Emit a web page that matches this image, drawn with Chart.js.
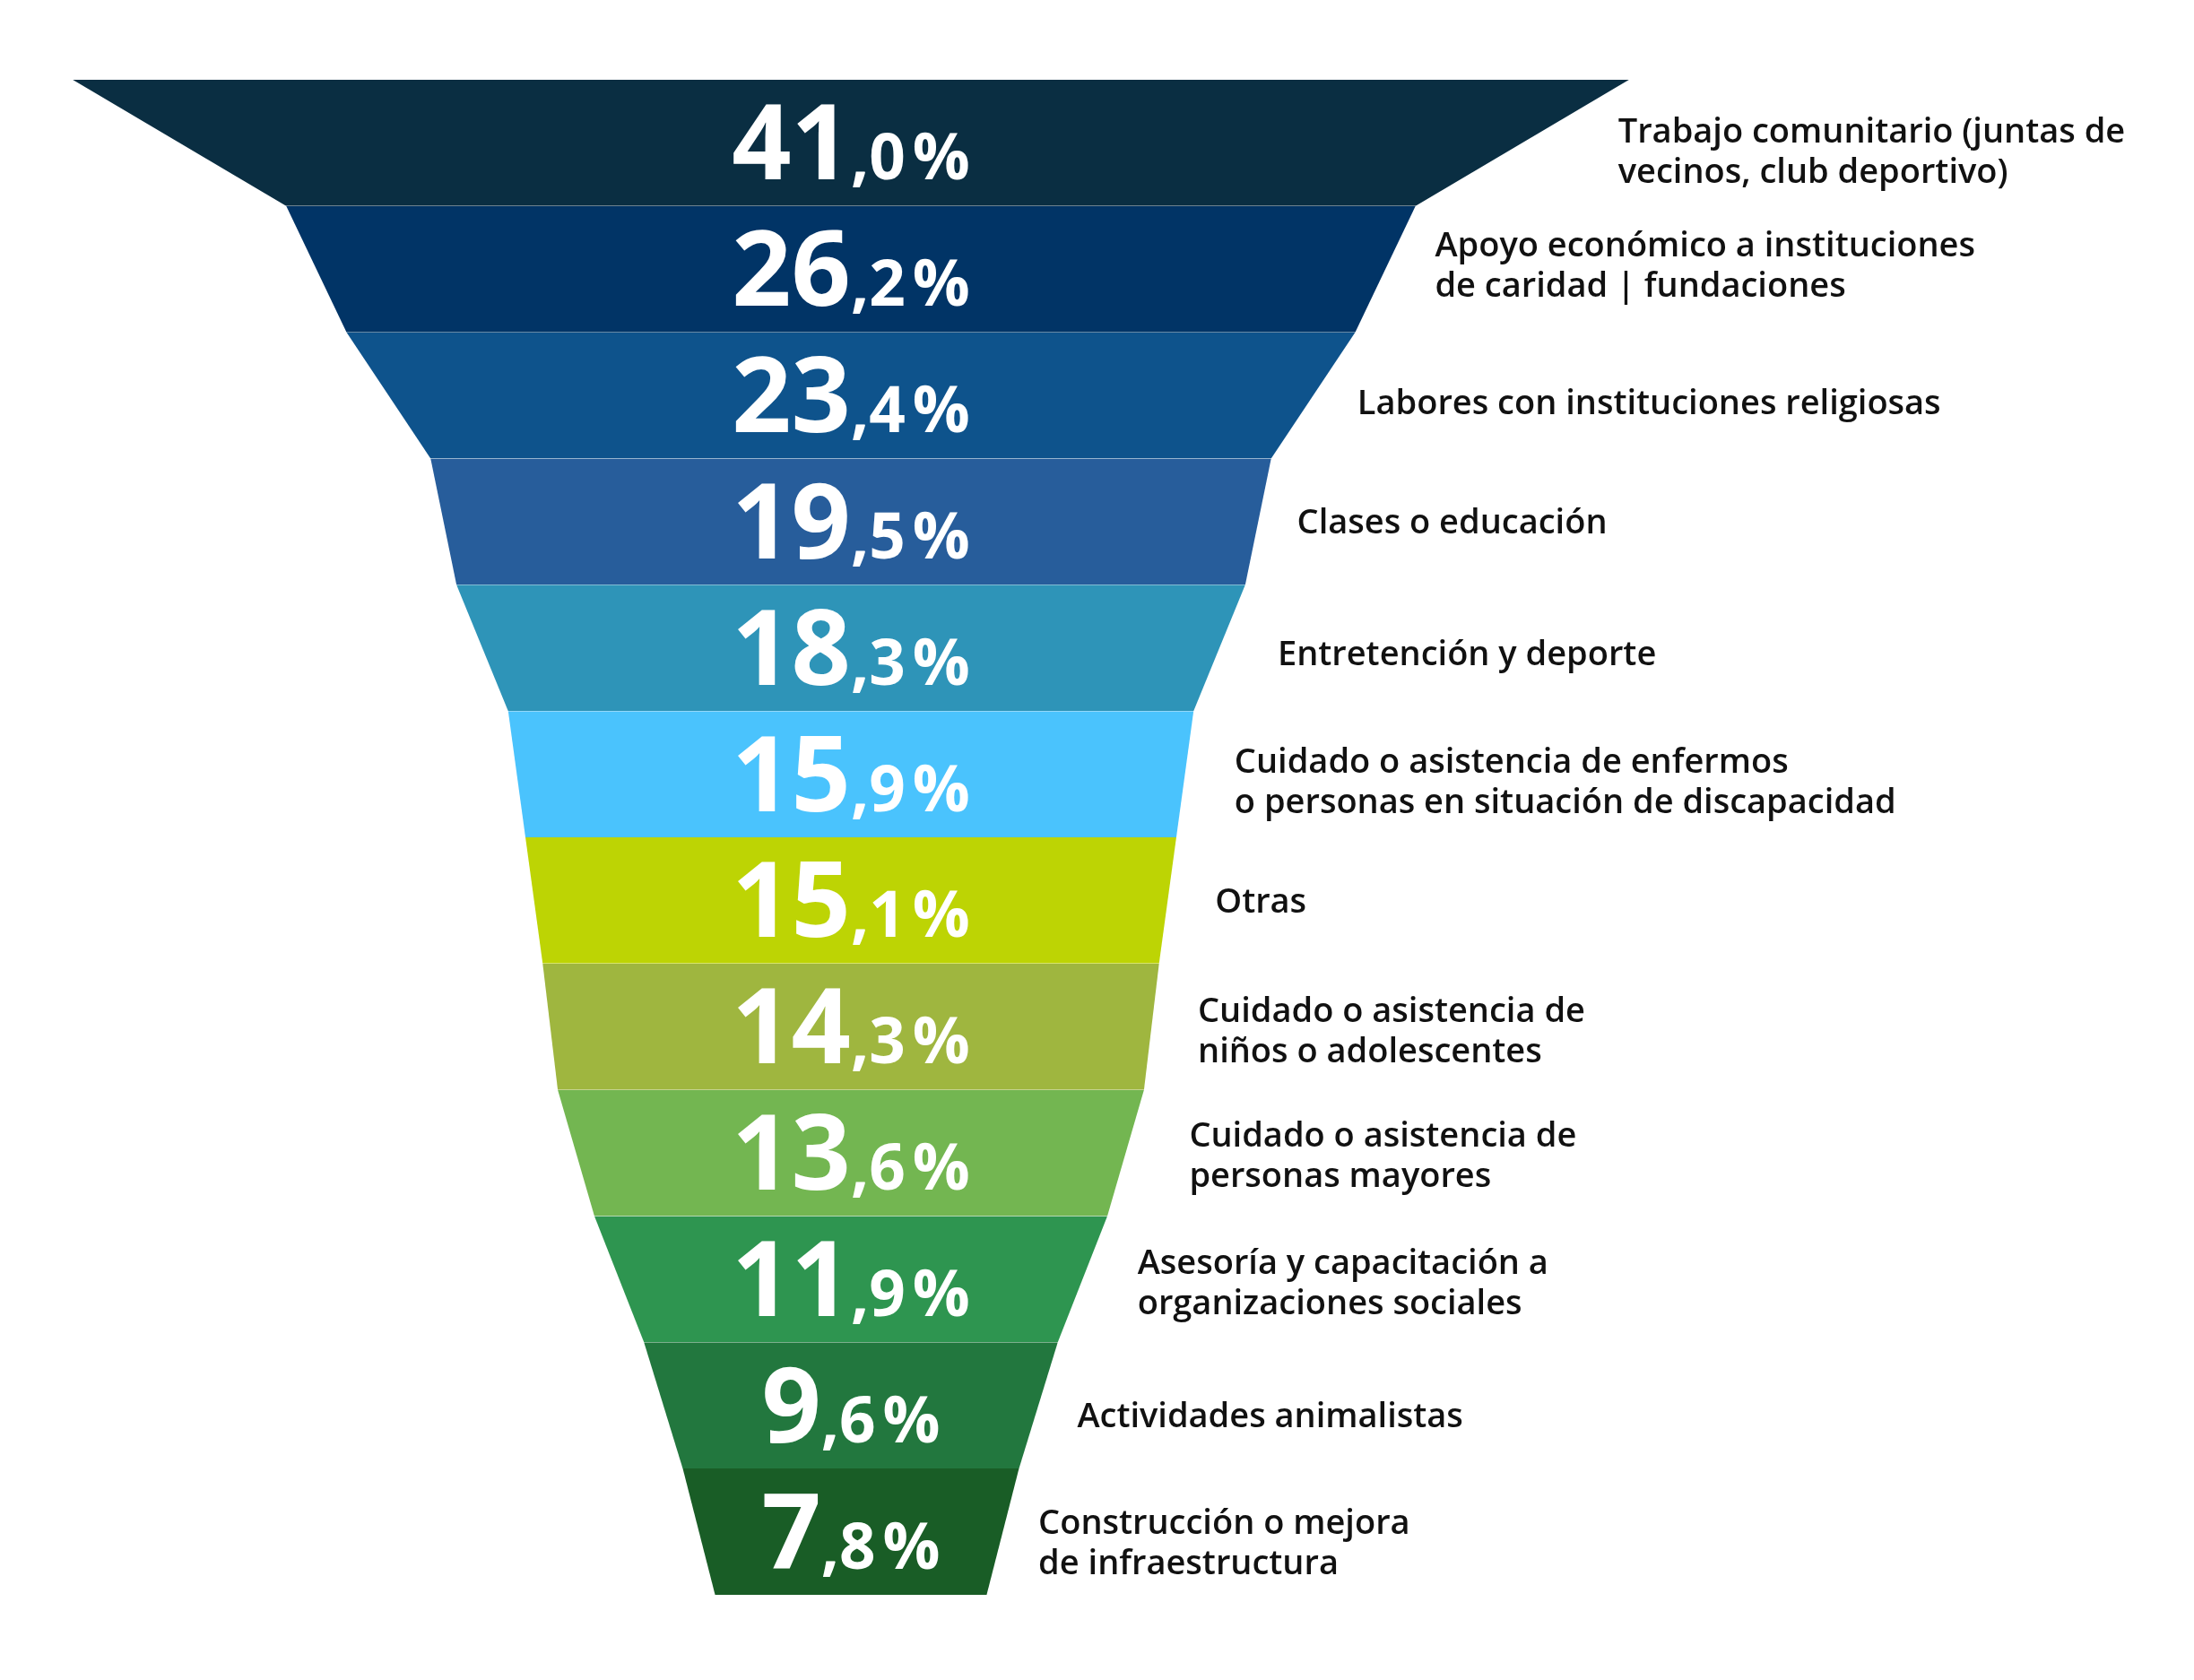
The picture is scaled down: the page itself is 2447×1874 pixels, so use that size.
<!DOCTYPE html>
<html>
<head>
<meta charset="utf-8">
<script src="https://cdn.jsdelivr.net/npm/chart.js@4"></script>
<style>
  html, body { margin: 0; padding: 0; background: #fff; }
  canvas { display: block; }
</style>
</head>
<body>
<canvas id="funnelChart" width="2447" height="1874"></canvas>
<script>
// categories, top to bottom
const categories = [
    ['Trabajo comunitario (juntas de', 'vecinos, club deportivo)'],
    ['Apoyo económico a instituciones', 'de caridad | fundaciones'],
    ['Labores con instituciones religiosas'],
    ['Clases o educación'],
    ['Entretención y deporte'],
    ['Cuidado o asistencia de enfermos', 'o personas en situación de discapacidad'],
    ['Otras'],
    ['Cuidado o asistencia de', 'niños o adolescentes'],
    ['Cuidado o asistencia de', 'personas mayores'],
    ['Asesoría y capacitación a', 'organizaciones sociales'],
    ['Actividades animalistas'],
    ['Construcción o mejora', 'de infraestructura']
];
const values = [41.0, 26.2, 23.4, 19.5, 18.3, 15.9, 15.1, 14.3, 13.6, 11.9, 9.6, 7.8];
// funnel mouth and tip widths (in the same % units as values)
const topCap = 36.1;
const bottomCap = 6.3;

const colors = ['#0a2e42', '#013466', '#0e538c', '#275d9b', '#2e94b8', '#4ac3fd',
                '#bdd404', '#9fb63f', '#73b651', '#2e9550', '#22773e', '#195d26'];
// where each category label starts (x-axis units) and a small vertical nudge (px)
const labelX = [17.8, 13.55, 11.75, 10.35, 9.9, 8.9, 8.45, 8.05, 7.85, 6.65, 5.25, 4.35];
const labelDy = [3, -11, 2, -6, 0, 2, -5, -2, -3, -2, 5, 6];

// edge widths: top of segment i uses its own value
const edges = values.map((v, i) => i === 0 ? topCap : v);
edges.push(bottomCap);

const datasets = [];
values.forEach((v, i) => {
    datasets.push({
        data: [{x: -edges[i] / 2, y: i}, {x: -edges[i + 1] / 2, y: i + 1}],
        borderWidth: 0,
        pointRadius: 0,
        fill: false
    });
    datasets.push({
        data: [{x: edges[i] / 2, y: i}, {x: edges[i + 1] / 2, y: i + 1}],
        borderWidth: 0,
        pointRadius: 0,
        backgroundColor: colors[i],
        fill: '-1'
    });
});

const labelPlugin = {
    id: 'funnelLabels',
    afterDatasetsDraw(chart) {
        const ctx = chart.ctx;
        const xs = chart.scales.x;
        const ys = chart.scales.y;
        ctx.save();
        values.forEach((v, i) => {
            const yc = ys.getPixelForValue(i + 0.5);
            const xc = xs.getPixelForValue(0);

            // percentage: big integer part, small decimals
            const parts = v.toFixed(1).split('.');
            const bigFont = 'bold 116px "Open Sans"';
            const smallFont = 'bold 71px "Open Sans"';
            ctx.font = bigFont;
            const wBig = ctx.measureText(parts[0]).width;
            ctx.font = smallFont;
            const wDec = ctx.measureText(',' + parts[1]).width;
            const wPct = ctx.measureText('%').width;
            const gap = 8;
            const total = wBig + wDec + gap + wPct;
            let x = xc - total / 2;
            const base = yc + 41;
            ctx.fillStyle = '#ffffff';
            ctx.textAlign = 'left';
            ctx.textBaseline = 'alphabetic';
            ctx.font = bigFont;
            ctx.fillText(parts[0], x, base);
            x += wBig;
            ctx.font = smallFont;
            ctx.fillText(',' + parts[1], x, base);
            x += wDec + gap;
            ctx.fillText('%', x, base);

            // category label
            const lines = categories[i];
            const lh = 45;
            ctx.font = '600 38px "Open Sans"';
            ctx.fillStyle = '#111111';
            ctx.textBaseline = 'middle';
            const lx = xs.getPixelForValue(labelX[i]);
            lines.forEach((t, k) => {
                ctx.fillText(t, lx, yc + 8 + labelDy[i] + (k - (lines.length - 1) / 2) * lh);
            });
        });
        ctx.restore();
    }
};

new Chart(document.getElementById('funnelChart').getContext('2d'), {
    type: 'line',
    data: { datasets: datasets },
    options: {
        indexAxis: 'y',
        responsive: false,
        animation: false,
        layout: { padding: 0 },
        scales: {
            x: { type: 'linear', display: false, min: -19.74, max: 31.16 },
            y: { type: 'linear', display: false, min: -0.632, max: 12.675, reverse: true }
        },
        plugins: {
            legend: { display: false },
            tooltip: { enabled: false }
        }
    },
    plugins: [labelPlugin]
});
</script>
</body>
</html>
